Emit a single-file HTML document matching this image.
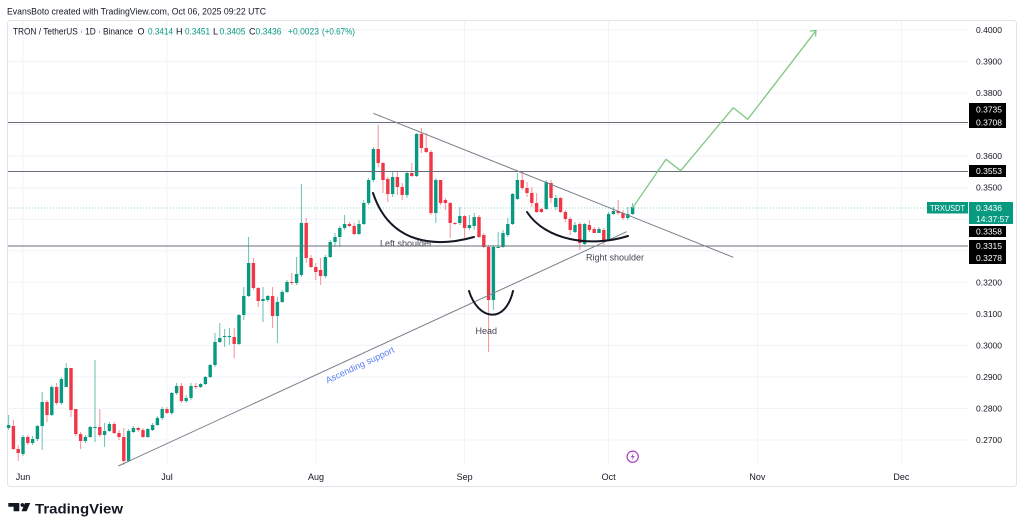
<!DOCTYPE html>
<html><head><meta charset="utf-8"><style>
html,body{margin:0;padding:0;background:#fff;}
svg{display:block;font-family:"Liberation Sans",sans-serif;}
</style></head><body>
<svg width="1024" height="530" viewBox="0 0 1024 530" xmlns="http://www.w3.org/2000/svg">
<rect width="1024" height="530" fill="#fff"/>
<text x="7" y="14.5" font-size="9" fill="#131722" textLength="259" lengthAdjust="spacingAndGlyphs">EvansBoto created with TradingView.com, Oct 06, 2025 09:22 UTC</text>
<rect x="7.5" y="20.5" width="1009" height="466" rx="3" fill="none" stroke="#e0e3eb"/>
<!-- grid -->
<g stroke="#f0f3fa" stroke-width="1">
<path d="M8 30H968M8 61.5H968M8 93.1H968M8 124.6H968M8 156.2H968M8 187.7H968M8 219.2H968M8 250.8H968M8 282.3H968M8 313.9H968M8 345.4H968M8 376.9H968M8 408.5H968M8 440H968"/>
<path d="M23 21V465M167 21V465M316 21V465M464.6 21V465M608.6 21V465M757.4 21V465M901.4 21V465"/>
</g>
<text x="13" y="34.5" font-size="9" fill="#131722" textLength="120" lengthAdjust="spacingAndGlyphs">TRON / TetherUS · 1D · Binance</text>
<g font-size="9">
<text x="137.5" y="34.5" fill="#131722">O</text><text x="148" y="34.5" fill="#089981" textLength="25" lengthAdjust="spacingAndGlyphs">0.3414</text>
<text x="176" y="34.5" fill="#131722">H</text><text x="185" y="34.5" fill="#089981" textLength="25" lengthAdjust="spacingAndGlyphs">0.3451</text>
<text x="213" y="34.5" fill="#131722">L</text><text x="219.5" y="34.5" fill="#089981" textLength="26" lengthAdjust="spacingAndGlyphs">0.3405</text>
<text x="249" y="34.5" fill="#131722">C</text><text x="255.5" y="34.5" fill="#089981" textLength="26" lengthAdjust="spacingAndGlyphs">0.3436</text>
<text x="288" y="34.5" fill="#089981" textLength="31" lengthAdjust="spacingAndGlyphs">+0.0023</text><text x="322" y="34.5" fill="#089981" textLength="33" lengthAdjust="spacingAndGlyphs">(+0.67%)</text>
</g>
<!-- dotted last price -->
<path d="M8 208H968" stroke="#089981" stroke-opacity="0.45" stroke-dasharray="1 2"/>
<!-- candles: green -->
<path stroke="#089981" stroke-opacity="0.6" stroke-width="1" fill="none" d="M8.6 415V430M23 435V456M32.6 436V445M37.4 425V441M42.2 392V450M51.8 385V416M61.4 377V405M66.2 363V387M85.4 435V443M90.2 426V438M95 360V442M104.6 423V447M109.4 422V432M128.6 429V462M133.4 426V433M147.8 428V438M152.6 423V431M157.4 416V426M162.2 407V420M171.8 392V415M176.6 383V395M186.2 395V403M191 383V400M200.6 383V388M205.4 376V385M210.2 364V378M215 333V367M219.8 323V343M224.6 329V347M229.4 328V345M239 314V345M243.8 287V320M248.6 237V297M263 287V322M267.8 295V302M277.4 297V343M282.2 290V303M287 280V293M296.6 257V285M301.4 184V277M325.4 255V278M330.2 240V258M335 233V247M339.8 226V247M344.6 215V230M359 220V235M363.8 200V225M368.6 178V205M373.4 147V182M392.6 172V197M407 172V198M416.6 133V177M435.8 178V223M459.8 207V225M469.4 215V230M474.2 213V230M493.4 245V310M498.2 232V248M503 230V248M507.8 218V237M512.6 193V225M517.4 173V200M546.2 180V210M555.8 195V210M575 222V233M584.6 223V245M599 227V233M608.6 212V241M613.4 207V215M627.8 207V220M632.6 203V215"/>
<path fill="#089981" d="M6.9 425h3.4v3h-3.4zM21.3 437h3.4v17h-3.4zM30.9 439h3.4v4h-3.4zM35.7 426h3.4v13h-3.4zM40.5 402h3.4v24h-3.4zM50.1 387h3.4v28h-3.4zM59.7 379h3.4v24h-3.4zM64.5 368h3.4v19h-3.4zM83.7 437h3.4v4h-3.4zM88.5 427h3.4v10h-3.4zM93.3 427h3.4v1h-3.4zM102.9 431h3.4v4h-3.4zM107.7 424h3.4v7h-3.4zM126.9 431h3.4v30h-3.4zM131.7 428h3.4v4h-3.4zM146.1 429h3.4v8h-3.4zM150.9 425h3.4v5h-3.4zM155.7 418h3.4v7h-3.4zM160.5 409h3.4v9h-3.4zM170.1 393h3.4v20h-3.4zM174.9 386h3.4v7h-3.4zM184.5 398h3.4v3h-3.4zM189.3 386h3.4v12h-3.4zM198.9 384h3.4v3h-3.4zM203.7 377h3.4v7h-3.4zM208.5 365h3.4v12h-3.4zM213.3 342h3.4v23h-3.4zM218.1 338h3.4v4h-3.4zM222.9 336h3.4v1h-3.4zM227.7 336h3.4v1h-3.4zM237.3 315h3.4v29h-3.4zM242.1 296h3.4v19h-3.4zM246.9 263h3.4v33h-3.4zM261.3 299h3.4v2h-3.4zM266.1 296h3.4v4h-3.4zM275.7 302h3.4v14h-3.4zM280.5 292h3.4v10h-3.4zM285.3 282h3.4v10h-3.4zM294.9 274h3.4v9h-3.4zM299.7 223h3.4v52h-3.4zM323.7 257h3.4v19h-3.4zM328.5 242h3.4v15h-3.4zM333.3 237h3.4v5h-3.4zM338.1 228h3.4v9h-3.4zM342.9 224h3.4v4h-3.4zM357.3 224h3.4v10h-3.4zM362.1 203h3.4v21h-3.4zM366.9 180h3.4v23h-3.4zM371.7 149h3.4v31h-3.4zM390.9 177h3.4v17h-3.4zM405.3 173h3.4v22h-3.4zM414.9 134h3.4v42h-3.4zM434.1 180h3.4v33h-3.4zM458.1 216h3.4v7h-3.4zM467.7 225h3.4v3h-3.4zM472.5 217h3.4v9h-3.4zM491.7 247h3.4v53h-3.4zM496.5 247h3.4v1h-3.4zM501.3 233h3.4v14h-3.4zM506.1 224h3.4v11h-3.4zM510.9 194h3.4v30h-3.4zM515.7 180h3.4v19h-3.4zM544.5 182h3.4v27h-3.4zM554.1 198h3.4v9h-3.4zM573.3 225h3.4v7h-3.4zM582.9 224h3.4v20h-3.4zM597.3 229h3.4v4h-3.4zM606.9 214h3.4v26h-3.4zM611.7 211h3.4v3h-3.4zM626.1 214h3.4v4h-3.4zM630.9 207h3.4v7h-3.4z"/>
<!-- candles: red -->
<path stroke="#f23645" stroke-opacity="0.55" stroke-width="1" fill="none" d="M13.4 420V450M18.2 445V461M27.8 435V445M47 400V422M56.6 383V405M71 368V417M75.8 409V436M80.6 432V449M99.8 409V437M114.2 422V434M119 430V440M123.8 428V465M138.2 427V432M143 428V438M167 407V414M181.4 383V403M195.8 383V389M234.2 328V358M253.4 258V290M258.2 287V307M272.6 287V328M291.8 273V285M306.2 218V263M311 255V268M315.8 263V280M320.6 258V285M349.4 222V227M354.2 223V235M378.2 125V167M383 162V193M387.8 177V202M397.4 172V195M402.2 183V200M411.8 163V177M421.4 128V153M426.2 133V153M431 150V215M440.6 180V205M445.4 198V210M450.2 202V238M455 222V225M464.6 215V238M479 215V238M483.8 233V248M488.6 245V352M522.2 172V190M527 182V197M531.8 187V207M536.6 193V213M541.4 208V213M551 180V203M560.6 197V213M565.4 210V222M570.2 217V235M579.8 222V250M589.4 220V232M594.2 227V233M603.8 228V245M618.2 200V215M623 210V220"/>
<path fill="#f23645" d="M11.7 426h3.4v23h-3.4zM16.5 449h3.4v4h-3.4zM26.1 437h3.4v6h-3.4zM45.3 402h3.4v13h-3.4zM54.9 387h3.4v16h-3.4zM69.3 368h3.4v42h-3.4zM74.1 409h3.4v25h-3.4zM78.9 434h3.4v7h-3.4zM98.1 427h3.4v8h-3.4zM112.5 424h3.4v9h-3.4zM117.3 433h3.4v4h-3.4zM122.1 437h3.4v24h-3.4zM136.5 428h3.4v2h-3.4zM141.3 430h3.4v7h-3.4zM165.3 409h3.4v4h-3.4zM179.7 386h3.4v15h-3.4zM194.1 386h3.4v1h-3.4zM232.5 337h3.4v7h-3.4zM251.7 263h3.4v25h-3.4zM256.5 288h3.4v13h-3.4zM270.9 296h3.4v20h-3.4zM290.1 282h3.4v1h-3.4zM304.5 223h3.4v35h-3.4zM309.3 258h3.4v9h-3.4zM314.1 267h3.4v5h-3.4zM318.9 270h3.4v6h-3.4zM347.7 224h3.4v2h-3.4zM352.5 226h3.4v8h-3.4zM376.5 149h3.4v14h-3.4zM381.3 163h3.4v17h-3.4zM386.1 179h3.4v15h-3.4zM395.7 177h3.4v10h-3.4zM400.5 187h3.4v8h-3.4zM410.1 173h3.4v3h-3.4zM419.7 134h3.4v14h-3.4zM424.5 148h3.4v4h-3.4zM429.3 152h3.4v61h-3.4zM438.9 180h3.4v23h-3.4zM443.7 200h3.4v3h-3.4zM448.5 203h3.4v20h-3.4zM453.3 223h3.4v1h-3.4zM462.9 216h3.4v12h-3.4zM477.3 217h3.4v20h-3.4zM482.1 235h3.4v12h-3.4zM486.9 247h3.4v53h-3.4zM520.5 180h3.4v8h-3.4zM525.3 188h3.4v5h-3.4zM530.1 193h3.4v10h-3.4zM534.9 203h3.4v9h-3.4zM539.7 209h3.4v3h-3.4zM549.3 183h3.4v15h-3.4zM558.9 198h3.4v14h-3.4zM563.7 212h3.4v7h-3.4zM568.5 219h3.4v11h-3.4zM578.1 224h3.4v19h-3.4zM587.7 225h3.4v5h-3.4zM592.5 229h3.4v4h-3.4zM602.1 230h3.4v10h-3.4zM616.5 211h3.4v2h-3.4zM621.3 213h3.4v5h-3.4z"/>
<!-- horizontal levels -->
<g stroke="#6a6d78" stroke-width="1">
<path d="M8 122.5H968M8 171.5H968M8 246H968"/>
</g>
<!-- trendlines -->
<g stroke="#7b7e88" stroke-width="1" fill="none">
<path d="M373.3 113.3L733.3 257.3"/>
<path d="M118.3 466L626.7 231.7"/>
</g>
<text transform="translate(360,365) rotate(-25)" text-anchor="middle" dominant-baseline="central" font-size="9" fill="#5b7cfa">Ascending support</text>
<!-- arcs -->
<g stroke="#131722" stroke-width="2" fill="none" stroke-linecap="round">
<path d="M373 193C390 244,435 248,474 237"/>
<path d="M469 291C478 320,505 325,513 291"/>
<path d="M527 212C545 240,590 248,628 236"/>
</g>
<g font-size="9" fill="#434651">
<text x="380" y="246.5">Left shoulder</text>
<text x="475.5" y="334">Head</text>
<text x="586" y="260.5">Right shoulder</text>
</g>
<!-- projection -->
<g stroke="#81c784" stroke-width="1.3" fill="none" stroke-linejoin="round" stroke-linecap="round">
<path d="M632.7 207.7L666 159.3L680.7 170.7L733.3 107.7L747.7 119.3L816 30.7"/>
<path d="M810.5 31L816 30.5L815.6 36"/>
</g>
<!-- lightning icon -->
<circle cx="632.7" cy="456.7" r="5.6" fill="#fff" stroke="#a43fbf" stroke-width="1.2"/>
<path d="M633.8 452.6L630.8 457.2H632.9L631.6 460.8L634.7 456.1H632.6Z" fill="#a43fbf"/>
<!-- time axis -->
<g font-size="9" fill="#131722" text-anchor="middle">
<text x="23" y="480">Jun</text>
<text x="167" y="480">Jul</text>
<text x="316" y="480">Aug</text>
<text x="464.6" y="480">Sep</text>
<text x="608.6" y="480">Oct</text>
<text x="757.4" y="480">Nov</text>
<text x="901.4" y="480">Dec</text>
</g>
<!-- price axis -->
<g font-size="8.5" fill="#131722">
<text x="976" y="33">0.4000</text>
<text x="976" y="64.5">0.3900</text>
<text x="976" y="96.1">0.3800</text>
<text x="976" y="159.2">0.3600</text>
<text x="976" y="190.7">0.3500</text>
<text x="976" y="285.3">0.3200</text>
<text x="976" y="316.9">0.3100</text>
<text x="976" y="348.4">0.3000</text>
<text x="976" y="379.9">0.2900</text>
<text x="976" y="411.5">0.2800</text>
<text x="976" y="443">0.2700</text>
</g>
<g fill="#000">
<rect x="969" y="103" width="37" height="25"/>
<rect x="969" y="165" width="37" height="12"/>
<rect x="969" y="226" width="37" height="11"/>
<rect x="969" y="240" width="37" height="24"/>
</g>
<rect x="927" y="202" width="41" height="11.5" fill="#089981"/>
<rect x="969" y="202" width="44" height="22" fill="#089981"/>
<g font-size="8.5" fill="#fff">
<text x="976" y="112.4">0.3735</text>
<text x="976" y="125.5">0.3708</text>
<text x="976" y="174">0.3553</text>
<text x="976" y="234.5">0.3358</text>
<text x="976" y="249">0.3315</text>
<text x="976" y="261">0.3278</text>
<text x="930" y="211" textLength="35" lengthAdjust="spacingAndGlyphs">TRXUSDT</text>
<text x="976" y="211">0.3436</text>
<text x="976" y="222">14:37:57</text>
</g>
<!-- logo -->
<g fill="#131722">
<path d="M8.3 503H19.3V511.2H13.6V506.8H8.3Z"/>
<circle cx="22.4" cy="505" r="1.9"/>
<path d="M25 503H30.2L26.6 511.2H21.5Z"/>
</g>
<text x="35" y="513.3" font-size="13.5" font-weight="bold" fill="#131722" textLength="88" lengthAdjust="spacingAndGlyphs">TradingView</text>
</svg>
</body></html>
